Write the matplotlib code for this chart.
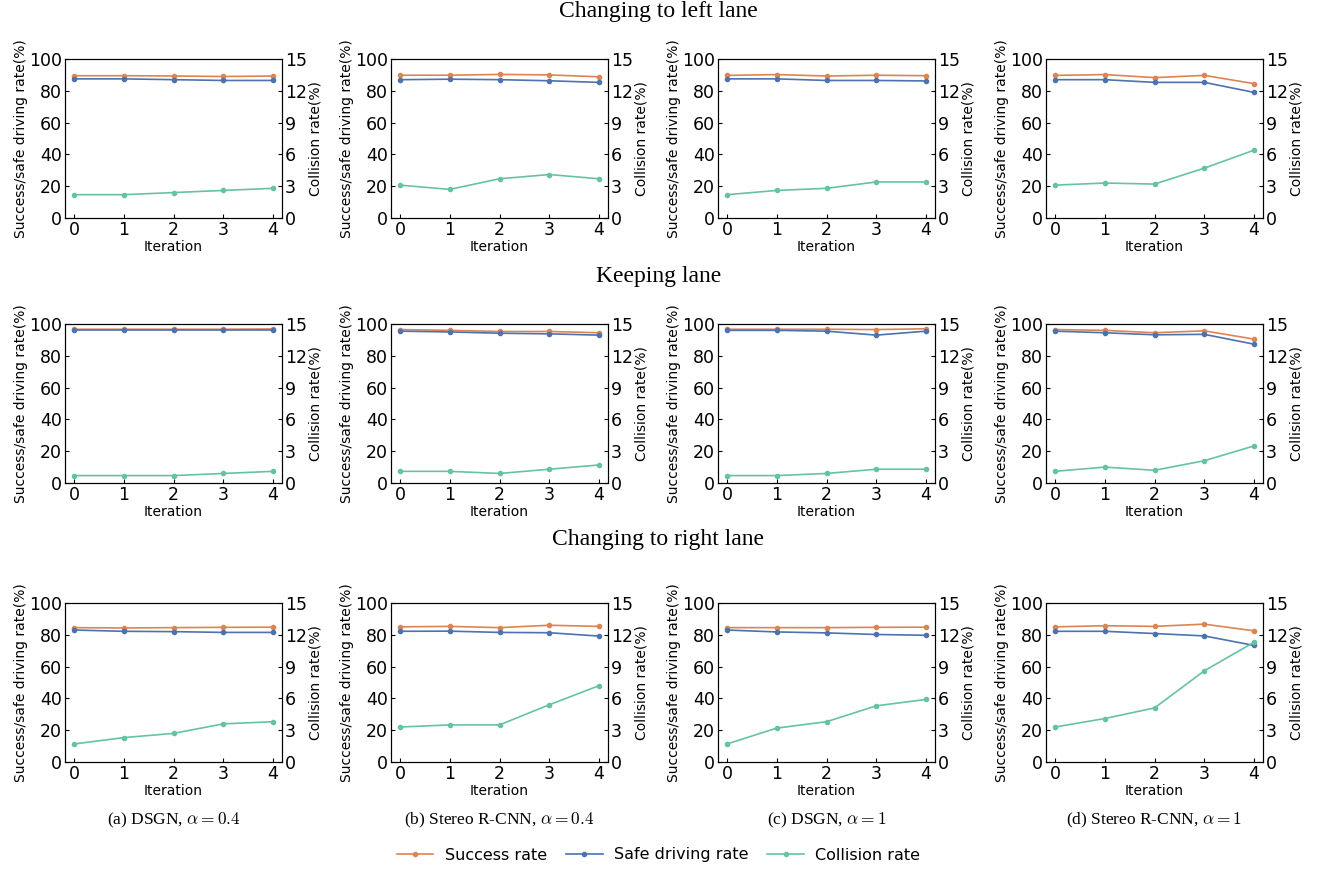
import matplotlib
matplotlib.use('Agg')
import matplotlib.pyplot as plt
import numpy as np

iterations = [0, 1, 2, 3, 4]
row_titles = ['Changing to left lane', 'Keeping lane', 'Changing to right lane']
captions = [r'(a) DSGN, $\alpha = 0.4$', r'(b) Stereo R-CNN, $\alpha = 0.4$',
            r'(c) DSGN, $\alpha = 1$', r'(d) Stereo R-CNN, $\alpha = 1$']

# success rate (%), rows = scenario, cols = setting
success = [
    [[89.5, 89.5, 89.3, 89.0, 89.3], [89.8, 89.8, 90.3, 90.0, 88.8],
     [89.7, 90.2, 89.3, 89.8, 89.5], [89.7, 90.2, 88.3, 89.7, 84.5]],
    [[96.7, 96.7, 96.7, 96.7, 96.9], [96.5, 96.0, 95.3, 95.3, 94.5],
     [96.7, 96.7, 96.7, 96.5, 97.0], [96.5, 96.0, 94.5, 95.7, 90.5]],
    [[84.5, 84.3, 84.5, 84.7, 84.8], [85.0, 85.3, 84.5, 86.0, 85.3],
     [84.5, 84.5, 84.5, 84.7, 84.8], [85.0, 85.7, 85.3, 86.7, 82.5]],
]
# safe driving rate (%)
safe = [
    [[87.5, 87.5, 87.0, 86.5, 86.5], [87.0, 87.3, 87.0, 86.3, 85.3],
     [87.5, 87.5, 86.5, 86.5, 86.2], [87.0, 87.0, 85.3, 85.3, 79.0]],
    [[96.0, 96.0, 96.0, 96.0, 96.0], [95.5, 95.0, 94.2, 93.8, 93.0],
     [96.0, 96.0, 95.5, 93.0, 95.5], [95.5, 94.5, 93.2, 93.5, 87.3]],
    [[83.0, 82.2, 82.0, 81.5, 81.5], [82.2, 82.3, 81.5, 81.3, 79.2],
     [83.0, 81.8, 81.2, 80.2, 79.7], [82.2, 82.2, 80.8, 79.3, 73.3]],
]
# collision rate (%), right axis
collision = [
    [[2.2, 2.2, 2.4, 2.6, 2.8], [3.1, 2.7, 3.7, 4.1, 3.7],
     [2.2, 2.6, 2.8, 3.4, 3.4], [3.1, 3.3, 3.2, 4.7, 6.4]],
    [[0.7, 0.7, 0.7, 0.9, 1.1], [1.1, 1.1, 0.9, 1.3, 1.7],
     [0.7, 0.7, 0.9, 1.3, 1.3], [1.1, 1.5, 1.2, 2.1, 3.5]],
    [[1.7, 2.3, 2.7, 3.6, 3.8], [3.3, 3.5, 3.5, 5.4, 7.2],
     [1.7, 3.2, 3.8, 5.3, 5.9], [3.3, 4.1, 5.1, 8.6, 11.3]],
]

c_success = '#dd8452'
c_safe = '#4c72b0'
c_coll = '#66c2a5'

W, H = 1317, 869
fig = plt.figure(figsize=(W / 100, H / 100), dpi=100)

col_left = [65, 391, 718, 1046]
row_top = [59, 324, 603]
ax_w, ax_h = 217, 159

handles = []
for r in range(3):
    for c in range(4):
        l = col_left[c] / W
        b = 1 - (row_top[r] + ax_h) / H
        ax = fig.add_axes([l, b, ax_w / W, ax_h / H])
        ax2 = ax.twinx()
        h1, = ax.plot(iterations, success[r][c], color=c_success, marker='o',
                      markersize=3, lw=1.2, label='Success rate')
        h2, = ax.plot(iterations, safe[r][c], color=c_safe, marker='o',
                      markersize=3, lw=1.2, label='Safe driving rate')
        h3, = ax2.plot(iterations, collision[r][c], color=c_coll, marker='o',
                       markersize=3, lw=1.2, label='Collision rate')
        handles = [h1, h2, h3]
        ax.set_xlim(-0.18, 4.18)
        ax.set_ylim(0, 100)
        ax2.set_ylim(0, 15)
        ax.set_xticks(iterations)
        ax.set_yticks([0, 20, 40, 60, 80, 100])
        ax2.set_yticks([0, 3, 6, 9, 12, 15])
        ax.tick_params(direction='in', labelsize=12.5, length=3, pad=2)
        ax2.tick_params(direction='in', labelsize=12.5, length=3, pad=2)
        ax.set_xlabel('Iteration', fontsize=10, labelpad=1)
        ax.set_ylabel('Success/safe driving rate(%)', fontsize=10, labelpad=1)
        ax2.set_ylabel('Collision rate(%)', fontsize=10, labelpad=1)
        if r == 2:
            fig.text((col_left[c] + ax_w / 2) / W, 1 - 820 / H, captions[c],
                     ha='center', va='center', fontsize=12.5,
                     family='Liberation Serif', math_fontfamily='cm')

title_y = [12, 276, 540]
for r in range(3):
    fig.text(0.5, 1 - title_y[r] / H, row_titles[r], ha='center', va='center',
             fontsize=17, family='Liberation Serif')

fig.legend(handles=handles, loc='center', bbox_to_anchor=(0.5, 1 - 855 / H),
           ncol=3, frameon=False, fontsize=11.5, columnspacing=1.2,
           handlelength=2.3, handletextpad=0.7)

fig.savefig('out.png', dpi=100)
